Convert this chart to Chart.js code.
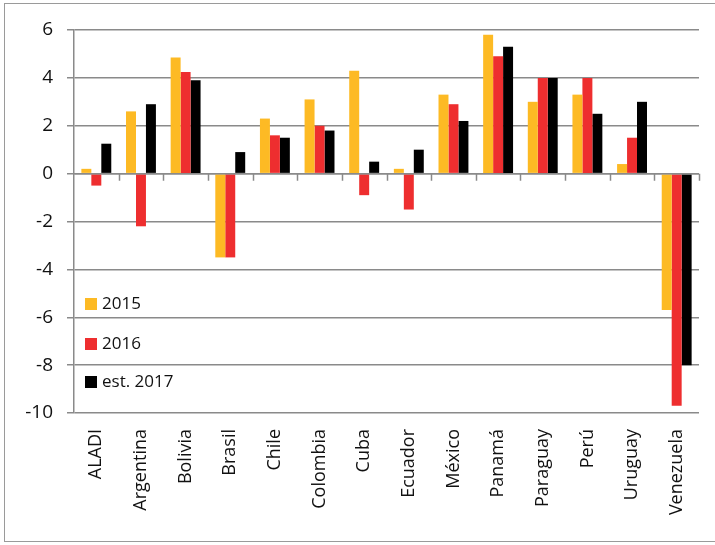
<!DOCTYPE html>
<html>
<head>
<meta charset="utf-8">
<script src="https://cdn.jsdelivr.net/npm/chart.js@4/dist/chart.umd.min.js"></script>
<style>
  html, body { margin: 0; padding: 0; background: #fff; }
  #wrap { position: relative; width: 715px; height: 545px; overflow: hidden; }
  #frame { position: absolute; left: 4px; top: 3px; width: 740px; height: 539px; border: 1.5px solid #9a9a9a; box-sizing: border-box; pointer-events: none; }
  canvas { position: absolute; left: 0; top: 0; }
</style>
</head>
<body>
<div id="wrap">
  <canvas id="c" width="715" height="545"></canvas>
  <div id="frame"></div>
</div>
<script>
const categories = ["ALADI", "Argentina", "Bolivia", "Brasil", "Chile", "Colombia", "Cuba", "Ecuador", "México", "Panamá", "Paraguay", "Perú", "Uruguay", "Venezuela"];
const values2015 = [0.2, 2.6, 4.85, -3.5, 2.3, 3.1, 4.3, 0.2, 3.3, 5.8, 3.0, 3.3, 0.4, -5.7];
const values2016 = [-0.5, -2.2, 4.25, -3.5, 1.6, 2.0, -0.9, -1.5, 2.9, 4.9, 4.0, 4.0, 1.5, -9.7];
const values2017 = [1.25, 2.9, 3.9, 0.9, 1.5, 1.8, 0.5, 1.0, 2.2, 5.3, 4.0, 2.5, 3.0, -8.0];
const seriesLabels = ["2015", "2016", "est. 2017"];
const seriesColors = ["#FDBA24", "#EE2E2F", "#000000"];
const yTicks = [6, 4, 2, 0, -2, -4, -6, -8, -10];

const gridColor = "#8a8a8a";

const zeroTicksPlugin = {
  id: "zeroTicks",
  afterDatasetsDraw(chart) {
    const ctx = chart.ctx, xs = chart.scales.x, ys = chart.scales.y;
    const y0 = ys.getPixelForValue(0);
    const n = categories.length;
    const w = (xs.right - xs.left) / n;
    ctx.save();
    ctx.strokeStyle = gridColor;
    ctx.lineWidth = 1.5;
    ctx.beginPath();
    ctx.moveTo(xs.left, y0);
    ctx.lineTo(xs.right, y0);
    for (let i = 1; i <= n; i++) {
      const x = Math.round(xs.left + i * w) + 0.5;
      ctx.moveTo(x, y0);
      ctx.lineTo(x, y0 + 7);
    }
    ctx.stroke();
    ctx.restore();
  }
};

const insideLegendPlugin = {
  id: "insideLegend",
  afterDraw(chart) {
    const ctx = chart.ctx, area = chart.chartArea;
    ctx.save();
    ctx.font = "17px 'Open Sans', sans-serif";
    ctx.textBaseline = "middle";
    const rows = [304, 344, 382];
    chart.data.datasets.forEach((ds, i) => {
      const y = rows[i];
      ctx.fillStyle = ds.backgroundColor;
      ctx.fillRect(area.left + 11, y - 6, 12, 12);
      ctx.fillStyle = "#111";
      ctx.fillText(ds.label, area.left + 28, y);
    });
    ctx.restore();
  }
};

new Chart(document.getElementById("c"), {
  type: "bar",
  data: {
    labels: categories,
    datasets: [
      { label: seriesLabels[0], data: values2015, backgroundColor: seriesColors[0] },
      { label: seriesLabels[1], data: values2016, backgroundColor: seriesColors[1] },
      { label: seriesLabels[2], data: values2017, backgroundColor: seriesColors[2] }
    ]
  },
  options: {
    responsive: false,
    animation: false,
    devicePixelRatio: 1,
    layout: { padding: { left: 0, top: 30, right: 16, bottom: 0 } },
    datasets: { bar: { categoryPercentage: 0.67, barPercentage: 1.0 } },
    plugins: { legend: { display: false }, tooltip: { enabled: false } },
    scales: {
      x: {
        grid: { display: false, drawTicks: false },
        border: { display: false },
        ticks: {
          color: "#111",
          font: { family: "'Open Sans', sans-serif", size: 18 },
          minRotation: 90, maxRotation: 90, autoSkip: false, padding: 16
        },
        afterFit: (s) => { s.height = 132; }
      },
      y: {
        min: -10, max: 6,
        afterBuildTicks: (s) => { s.ticks = yTicks.map(v => ({ value: v })); },
        grid: { color: gridColor, lineWidth: 1.5, tickLength: 7, tickColor: gridColor },
        border: { display: true, color: gridColor, width: 1.5 },
        ticks: {
          color: "#111",
          font: { family: "'Open Sans', sans-serif", size: 19 },
          padding: 14
        },
        afterFit: (s) => { s.width = 74; }
      }
    }
  },
  plugins: [zeroTicksPlugin, insideLegendPlugin]
});
</script>
</body>
</html>
